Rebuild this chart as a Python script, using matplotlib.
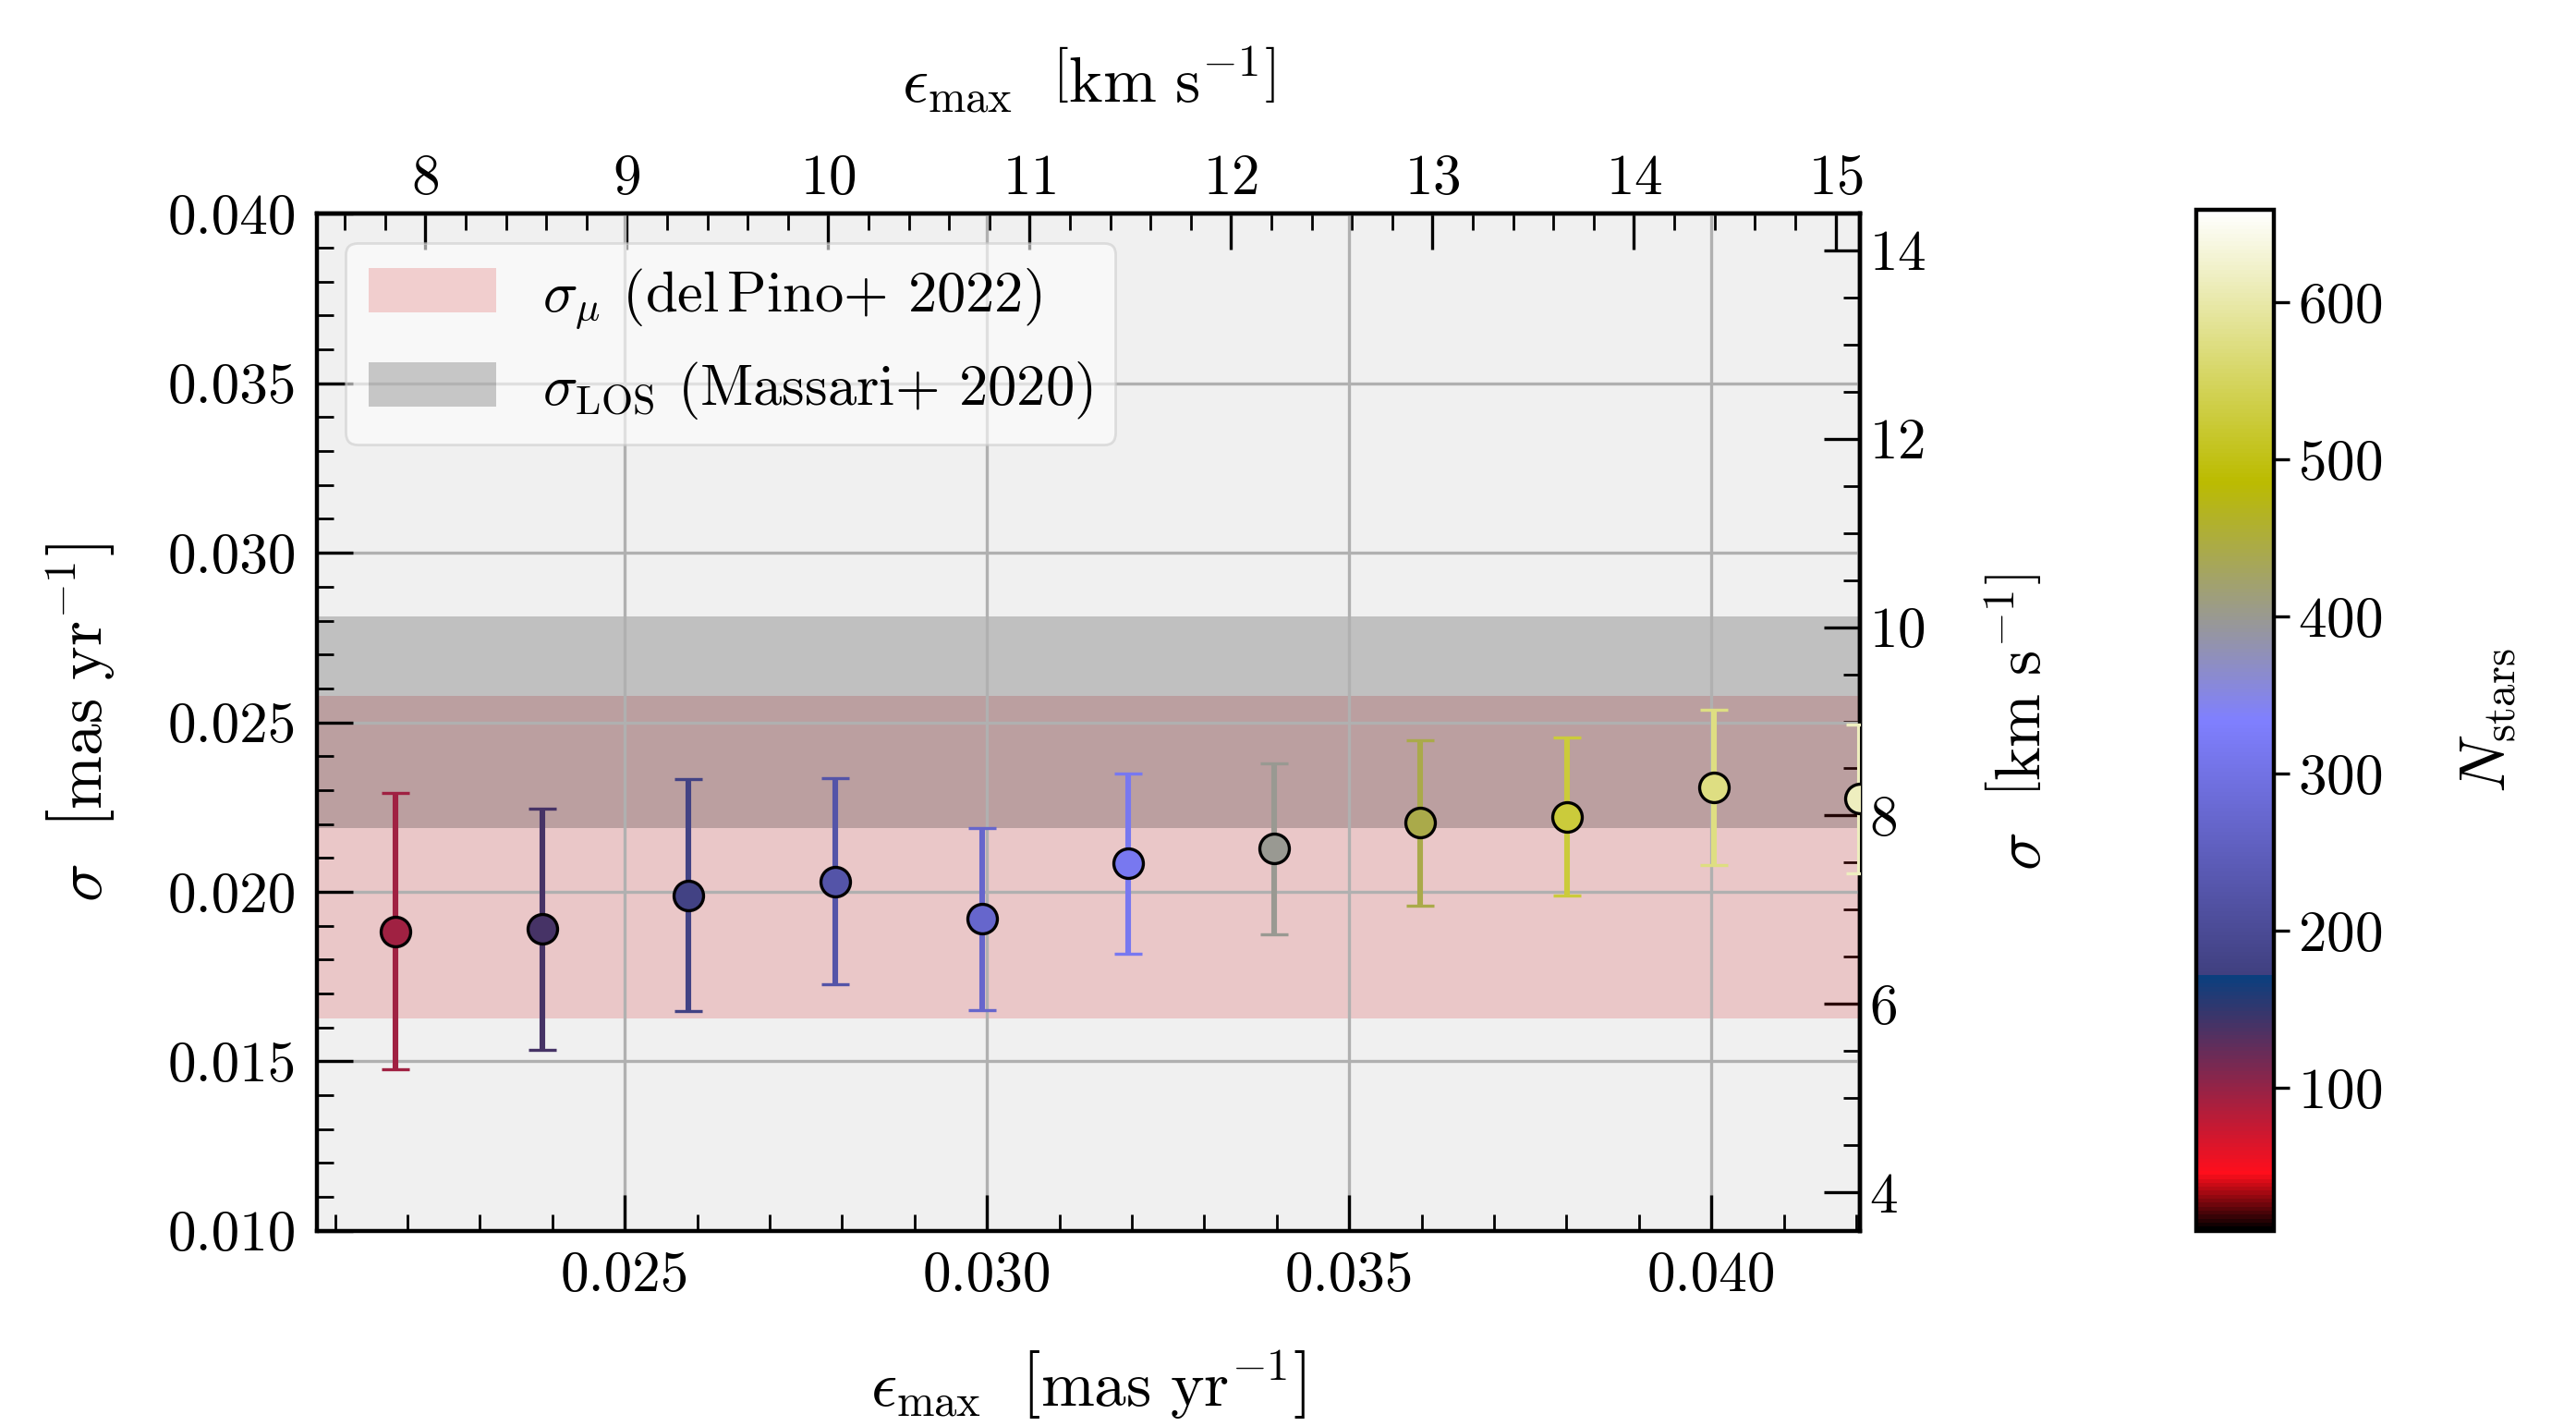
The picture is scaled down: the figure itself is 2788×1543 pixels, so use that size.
import matplotlib
matplotlib.use("Agg")
import matplotlib.pyplot as plt
from matplotlib.patches import Patch
from matplotlib.ticker import MultipleLocator, FormatStrFormatter
from matplotlib.colors import Normalize
import matplotlib.cm as cm

plt.rcParams.update({
    "font.family": "serif",
    "font.serif": ["cmr10"],
    "mathtext.fontset": "cm",
    "axes.unicode_minus": False,
    "axes.formatter.use_mathtext": True,
    "font.size": 22,
})

# Data
eps_max   = [0.02183, 0.02386, 0.02588, 0.02790, 0.02993, 0.03195,
             0.03397, 0.03598, 0.03801, 0.04003, 0.04205]        # mas/yr
sigma     = [0.01883, 0.01890, 0.01990, 0.02031, 0.01920, 0.02083,
             0.02127, 0.02203, 0.02221, 0.02309, 0.02274]        # mas/yr
sigma_err = [0.00408, 0.00356, 0.00342, 0.00305, 0.00269, 0.00266,
             0.00253, 0.00245, 0.00233, 0.00229, 0.00220]
n_stars   = [94, 140, 178, 224, 269, 315, 399, 443, 526, 575, 614]

# Literature bands
sigma_mu_lo, sigma_mu_hi   = 0.01627, 0.02579   # del Pino+ 2022
sigma_los_lo, sigma_los_hi = 0.02187, 0.02812   # Massari+ 2020

N_min, N_max = 9, 659
K = 359.6   # km/s per mas/yr

# Figure
fig = plt.figure(figsize=(13.94, 7.715), dpi=200)
ax = fig.add_axes([0.123, 0.137, 0.599, 0.713])
ax.set_facecolor("#f0f0f0")

ax.axhspan(sigma_mu_lo, sigma_mu_hi, color="tab:red", alpha=0.2, lw=0, zorder=1)
ax.axhspan(sigma_los_lo, sigma_los_hi, color="k", alpha=0.2, lw=0, zorder=1)
ax.grid(True, which="major", color="#b0b0b0", lw=1.2)

norm = Normalize(N_min, N_max)
cmap = plt.get_cmap("gist_stern")
for x, y, e, n in zip(eps_max, sigma, sigma_err, n_stars):
    c = cmap(norm(n))
    ax.errorbar(x, y, yerr=e, fmt="o", color=c, mfc=c, mec="k", mew=1.2,
                ms=11.5, elinewidth=2.2, capsize=5.5, capthick=2.2, zorder=3)

ax.set_xlim(0.02075, 0.04205)
ax.set_ylim(0.010, 0.040)
ax.xaxis.set_major_locator(MultipleLocator(0.005))
ax.xaxis.set_minor_locator(MultipleLocator(0.001))
ax.yaxis.set_major_locator(MultipleLocator(0.005))
ax.yaxis.set_minor_locator(MultipleLocator(0.001))
ax.xaxis.set_major_formatter(FormatStrFormatter("%.3f"))
ax.yaxis.set_major_formatter(FormatStrFormatter("%.3f"))

lab_fs = 25
ax.set_xlabel(r"$\epsilon_{\rm max}\ \ \left[\mathrm{mas\ yr^{-1}}\right]$",
              fontsize=lab_fs, labelpad=18)
ax.set_ylabel(r"$\sigma\ \ \left[\mathrm{mas\ yr^{-1}}\right]$",
              fontsize=lab_fs, labelpad=20)

# secondary axes in km/s
secx = ax.secondary_xaxis("top", functions=(lambda v: v * K, lambda v: v / K))
secx.xaxis.set_major_locator(MultipleLocator(1))
secx.xaxis.set_minor_locator(MultipleLocator(0.2))
secx.set_xlabel(r"$\epsilon_{\rm max}\ \ \left[\mathrm{km\ s^{-1}}\right]$",
                fontsize=lab_fs, labelpad=20)

secy = ax.secondary_yaxis("right", functions=(lambda v: v * K, lambda v: v / K))
secy.yaxis.set_major_locator(MultipleLocator(2))
secy.yaxis.set_minor_locator(MultipleLocator(0.5))
secy.set_ylabel(r"$\sigma\ \ \left[\mathrm{km\ s^{-1}}\right]$",
                fontsize=lab_fs, labelpad=26)

for a in (ax, secx, secy):
    a.tick_params(which="both", direction="in")
    a.tick_params(which="major", length=14, width=1.2)
    a.tick_params(which="minor", length=6.5, width=1.0)
    for s in a.spines.values():
        s.set_linewidth(1.6)
ax.tick_params(which="both", top=False, right=False, pad=8)

handles = [Patch(facecolor="tab:red", alpha=0.2),
           Patch(facecolor="k", alpha=0.2)]
labels = [r"$\sigma_{\mu}$ (del$\,$Pino$+$ 2022)",
          r"$\sigma_{\rm LOS}$ (Massari$+$ 2020)"]
ax.legend(handles, labels, loc="upper left", framealpha=0.6, fontsize=22.5,
          handlelength=2.2, handleheight=0.8)

# colorbar
cax = fig.add_axes([0.8526, 0.137, 0.0301, 0.716])
sm = cm.ScalarMappable(norm=norm, cmap=cmap)
cb = fig.colorbar(sm, cax=cax)
cb.set_ticks([100, 200, 300, 400, 500, 600])
cb.set_label(r"$N_{\rm stars}$", fontsize=25, labelpad=30)
cb.outline.set_linewidth(1.6)
cax.tick_params(direction="out", length=6, width=1.2)

fig.savefig("out.png", dpi=200)
